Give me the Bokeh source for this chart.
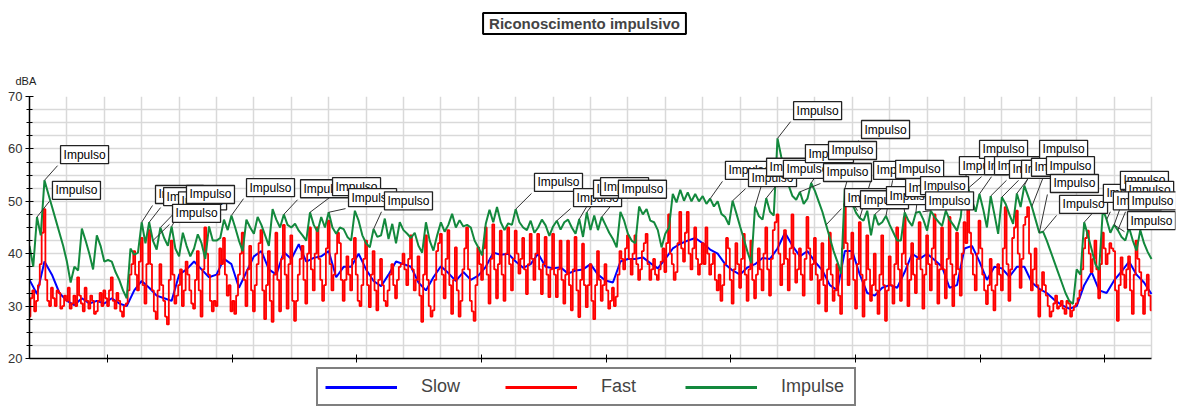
import numpy as np
from bokeh.plotting import figure
from bokeh.layouts import column
from bokeh.models import (Range1d, SingleIntervalTicker, FixedTicker, Label,
                          Legend, LegendItem, Title)
from bokeh.embed import file_html
from bokeh.resources import INLINE

# ---------------- data ----------------
FAST_STEP_S = 0.9     # seconds between Fast samples
IMP_STEP_S = 1.8      # seconds between Impulse samples
SLOW_STEP_S = 3.6     # seconds between Slow samples

fast_db = [
    28, 31.5, 33, 29, 31, 34, 38, 44, 48.5, 35, 31, 30, 33.5, 31.5, 30, 33, 32.5, 29.5, 30, 32,
    31, 33.5, 29.5, 30.5, 32, 30, 35.5, 32, 30.5, 29, 33.5, 31, 29.5, 32, 31, 28.5, 29, 31, 32.5, 30,
    33, 31.5, 30, 33, 35.5, 31, 29.5, 32.5, 31, 29, 28, 30, 30.5, 33, 36, 38, 40.5, 36, 33, 38.5,
    43, 34, 30.5, 38, 44.5, 38, 33, 29, 27.5, 33, 38, 34, 31, 28, 26.5, 35, 42.5, 36, 30.5, 32,
    34, 37, 30, 33, 38.5, 36, 33, 30.5, 29.5, 35, 40.5, 33, 28, 37, 45, 40, 36, 31, 29, 31,
    30, 36, 41, 38, 43, 36, 32, 34, 29, 31, 28.5, 32, 36, 40, 44, 35, 30, 37, 41.5, 33,
    29, 34, 38, 42, 44.5, 33, 27.5, 34, 40.5, 31, 27, 36, 44, 35, 29, 39, 45.5, 36, 29.5, 38,
    43.5, 31, 27.2, 31, 36, 39, 41.5, 35, 30.5, 40, 45, 37, 33, 40, 45, 39, 35, 31, 34, 41,
    46.3, 38, 33, 36, 40, 44, 42, 35, 31, 35, 39.5, 36, 33, 39, 43, 36, 31, 30, 34, 39,
    42.5, 34, 29.8, 36, 40.5, 33, 29.2, 35, 39, 34, 31, 30, 33, 36, 38, 34, 31.5, 35, 37.5, 38,
    40, 37, 34, 39, 43.5, 37, 33, 35, 39.5, 32, 27, 36, 43.5, 35, 30, 28, 29.2, 35, 40.5, 42,
    43.8, 36, 31.5, 39, 44.5, 34, 28.5, 35, 41.2, 33, 28, 31, 37, 41, 45, 37, 31, 29, 27.2, 34,
    41.2, 38, 35, 41, 45, 36, 30.5, 39, 45.6, 37, 31.5, 38, 44.4, 36, 31, 40, 45, 38, 33, 39,
    44.4, 40, 36.2, 39, 43, 37, 32.3, 38, 43.8, 39, 35, 40, 43.8, 37, 32.3, 38, 43.2, 36, 31.7, 37,
    43.8, 36, 31.7, 37, 42.5, 35, 30.5, 36, 42.5, 34, 29.2, 37, 43.2, 33, 27.9, 35, 41.9, 34, 29.8, 34,
    38, 31, 27.5, 34, 40.5, 35, 31, 34, 38, 33, 29.5, 31, 33.5, 30, 31.8, 36, 40.5, 39, 37, 41,
    43.5, 39, 36, 40, 43.5, 38, 35, 37, 40.5, 42, 43.8, 38, 35, 37, 39, 36, 35, 37, 38.5, 41,
    36.5, 42, 47.5, 40, 38, 35, 36.5, 42, 48, 41, 38.5, 44, 48, 40, 37, 41, 45, 39, 36, 38,
    42, 38, 45, 40, 36, 38, 40, 35, 33, 36, 31, 34, 38, 43, 41, 35, 30.5, 37, 42, 38,
    33.5, 39, 43.8, 36, 31, 37, 42.5, 35, 31.5, 36, 41, 37, 33, 40, 45, 37, 32, 39, 44.5, 46,
    47.5, 40, 34, 38, 44.5, 39, 33, 41, 47.5, 40, 34.5, 37, 41, 36, 32, 39, 47, 41, 35, 38,
    43, 36, 30.5, 35, 42, 34, 29, 37, 44, 36, 31, 33, 38, 32, 28.5, 41, 49.5, 42, 34, 39,
    44, 35, 29.5, 38, 46, 36, 28, 35, 43.5, 37, 31, 34, 40, 33, 28.5, 36, 43.5, 34, 27.2, 33,
    39.5, 34, 30.5, 38, 45, 37, 31, 40, 47, 38, 30, 35, 42, 36, 32.5, 39, 46, 37, 29.5, 36,
    43.5, 38, 33, 41, 47.5, 38, 30.5, 37, 45, 37, 31.5, 39, 47, 38, 30, 36, 44, 37, 32, 40,
    46, 42, 49, 44, 40, 36, 33, 40, 46.3, 41, 36, 33, 30.4, 34, 39, 33, 29.2, 34, 38, 36,
    33, 41, 48.9, 38, 31, 37, 43, 45, 48.2, 40, 33.5, 39, 45.5, 47, 48.9, 40, 33, 37, 41, 34,
    28, 33, 36.5, 34, 32, 30, 28, 29, 30.5, 32, 29.5, 30, 31, 29.5, 28.5, 31, 30.5, 28, 29.2, 30,
    30.5, 31.5, 33, 37, 41, 43, 44.4, 40, 36.5, 39, 42.5, 37, 31.5, 38, 44, 41, 38, 40, 42, 41,
    40.5, 33, 27.2, 34, 39.3, 36, 33.5, 37, 39.5, 33, 28.5, 36, 42.5, 39, 36.5, 32, 28.5, 33, 36, 32,
    29.2,
]

impulse_db = [
    41.5, 37.5, 47, 43.5, 54, 51.5, 49, 46.5, 44, 41.5,
    38.5, 34.5, 37.5, 36.8, 44.8, 42.5, 40, 37, 43.5, 41.5,
    38.5, 38.8, 38.5, 36.5, 35, 33, 31.5, 41, 39.8, 40.2,
    46, 42, 46, 42.5, 40.8, 45, 43, 41.5, 45.2, 41,
    39.5, 44, 41.5, 39.5, 41, 43.7, 42, 39, 45.2, 42.5,
    42.5, 43, 46.5, 44.5, 47.3, 45, 42.5, 40.5, 46.5, 45,
    43.8, 47, 45.5, 43.5, 41.5, 48.5, 46.5, 45, 47.5, 45.5,
    45, 45.7, 44.4, 43.5, 42.5, 47.9, 45.5, 44.2, 47, 45,
    47.9, 45, 43.8, 45, 44.7, 43.2, 42.5, 48.2, 46.3, 43.5,
    42, 41.2, 44.7, 43.2, 43.5, 46.7, 42.8, 45.7, 42, 46,
    44.5, 43.8, 43, 44, 41.5, 40.2, 46, 42.5, 40.6, 43.5,
    46, 44.2, 45.5, 47.6, 45, 46.4, 45.2, 45.5, 45, 42.5,
    41.2, 39.7, 45.7, 48.4, 46, 48.9, 46, 44.5, 45.8, 45.5,
    48.5, 46, 45, 44.5, 46.3, 44, 45, 46.5, 45.4, 43.4,
    45.2, 46.3, 44.6, 46, 46.5, 45, 43.8, 46.6, 43.2, 47.9,
    44.5, 47.3, 44.5, 47, 45.5, 44, 42.8, 41.2, 48, 46.3,
    43.8, 42.5, 42, 49, 47.5, 48.5, 46.3, 46, 44.5, 41.2,
    43.8, 45, 51.4, 49.8, 52.2, 50.1, 51.7, 50, 51.4, 50,
    51, 49.5, 50.5, 49, 50, 47.6, 47, 45.5, 50.1, 47.7,
    45.2, 42.8, 40.3, 38.2, 49, 47.2, 46.5, 50.6, 48, 47.3,
    62, 58.5, 55.8, 53, 51, 50.3, 51.8, 49.5, 50.5, 53.5,
    52, 50, 48, 45.5, 43, 40.5, 38.5, 36.2, 52.4, 51,
    49.5, 47.8, 46.8, 46.3, 48.2, 43.5, 47.5, 45.5, 46, 47.2,
    45.5, 44, 42.5, 42.5, 47.9, 46.3, 45.3, 47.8, 48, 46.5,
    44.4, 48.2, 47, 46.1, 45.3, 48.2, 46.5, 45.5, 44.4, 47,
    54.5, 52.5, 50.2, 48, 51.4, 48.5, 45, 51, 47.5, 43.8,
    50.8, 49.5, 47.5, 45.7, 51.5, 48.9, 53, 51, 49, 46.5,
    44, 44.2, 42.5, 40.5, 38.5, 36.5, 34.5, 32.5, 31, 30.4,
    37, 36, 46, 43.5, 40.8, 38, 36.9, 48.5, 46.5, 44,
    45.5, 44.5, 43.2, 42.5, 45, 42.5, 40.6, 44.5, 42, 40.3,
    39,
]

slow_db = [
    35, 32.3, 38.5, 36, 32.5, 31, 30.2, 31.5, 30.5, 31,
    30.5, 31.5, 30.5, 30, 33, 34.8, 33.5, 32, 31.5, 31,
    36, 37, 38.5, 37, 35.5,
    36, 39, 38, 33.5, 36.5, 39.5, 40.5, 37, 36, 40.3,
    39, 41.8, 38.5, 39.2, 39.5, 40.5, 35.5, 37.5, 37.5, 40,
    37, 34.8, 33.8, 36, 38.5,
    38, 37.5, 34.5, 33, 35.5, 37.6, 36.3, 34.8, 36.5, 35,
    35.8, 37.5, 40.2, 39.8, 40, 38.5, 37.3, 38, 40, 37.5,
    37.2, 37.4, 36.2, 36.8, 37,
    38, 36, 34.9, 34.5, 38.5, 39, 39, 39.3, 38.2, 37.2,
    39, 41, 41.9, 42.5, 43, 42, 40.8, 40, 38, 36.8,
    36, 37.4, 38, 39.2, 39,
    41, 44, 41.5, 39.5, 40.5, 38.5, 36.8, 34, 33, 40.5,
    40.5, 36, 32.5, 32, 33.5, 34, 33.5, 36.5, 40, 39,
    40, 38.8, 37.5, 33.5, 34,
    41, 41.5, 38.5, 35, 37.5, 37.2, 35.6, 37.5, 37.5, 34.5,
    33.3, 32.5, 31.2, 30.2, 29.5, 30, 34, 36.5, 33, 32.5,
    34.9, 36.6, 38.5, 36, 34.5, 32.3,
]

series_names = ["Slow", "Fast", "Impulse"]
chart_title = "Riconoscimento impulsivo"
y_unit = "dBA"
impulse_text = "Impulso"

# minute marks on the time axis (seconds)
x_tick_s = [37.5, 97.5, 157.5, 217.5, 277.5, 337.5, 397.5, 457.5, 517.5]

# impulse events: index of the Impulse sample that each callout marks
impulse_idx = [4, 2, 30, 32, 35, 38, 33, 54, 68, 75, 80, 92, 130, 141, 147,
               149, 153, 182, 188, 194, 197, 200, 203, 209, 206, 218, 222,
               213, 218, 226, 229, 234, 237, 241, 245, 250, 251, 254, 257,
               260, 264, 266, 268, 270, 271, 282, 287, 290, 288, 291, 290]

assert len(fast_db) == 601, len(fast_db)
assert len(impulse_db) == 301 and len(slow_db) == 151
assert len(impulse_idx) == 51

# ---------------- layout (callout box anchors, data coords) ----------------
callout_t = [13.5, 9.6, 59.2, 63.1, 70.3, 74.1, 67.4, 103.0, 129.0, 144.4,
             152.1, 169.4, 241.6, 260.4, 270.0, 273.4, 282.0, 333.5, 344.6,
             353.3, 361.4, 366.3, 372.0, 383.1, 380.7, 399.0, 404.8, 390.8,
             398.5, 411.0, 415.4, 420.2, 427.4, 429.8, 446.1, 455.8, 458.2,
             463.0, 470.2, 476.0, 480.8, 484.7, 488.0, 489.9, 494.3, 515.4,
             523.6, 526.1, 520.2, 527.5, 527.0]
callout_db = [56.8, 50.0, 49.2, 48.8, 48.0, 49.2, 45.6, 50.5, 50.3, 50.7,
              48.6, 48.0, 51.5, 48.6, 50.2, 50.7, 50.2, 53.8, 52.4, 54.4,
              54.0, 65.2, 57.0, 57.6, 53.4, 61.6, 53.8, 48.6, 48.2, 49.0,
              54.0, 50.5, 50.9, 48.0, 54.7, 57.8, 54.7, 54.7, 54.0, 54.0,
              54.4, 57.8, 54.7, 51.3, 47.3, 49.4, 51.9, 50.0, 48.0, 48.0,
              44.2]
assert len(callout_t) == 51 and len(callout_db) == 51

t_fast = np.arange(len(fast_db)) * FAST_STEP_S
t_imp = np.arange(len(impulse_db)) * IMP_STEP_S
t_slow = np.arange(len(slow_db)) * SLOW_STEP_S
t_end = float(t_imp[-1])

BLUE, RED, GREEN = "#0000FF", "#FF0000", "#13893D"
FONT = "Liberation Sans"
W = 1178
LEFT = 29                # page x of the y axis
PLOT_W = 1122            # width of the data area up to the last sample
EXTRA_R = 24             # callouts run past the last sample
RIGHT = W - LEFT - PLOT_W - EXTRA_R
px_per_s = PLOT_W / t_end

# header and legend strips share the main chart's frame edges (the column
# aligns them), so their x coordinates are page pixels from LEFT to W-RIGHT
strip_x = Range1d(LEFT, W - RIGHT)

# ---------------- header: title box ----------------
HDR_H = 60
hdr = figure(width=W, height=HDR_H, x_range=strip_x, y_range=Range1d(0, HDR_H),
             output_backend="svg", toolbar_location=None,
             x_axis_type=None, y_axis_type=None, min_border=0)
hdr.outline_line_color = None
hdr.add_layout(Label(x=584, y=HDR_H - 23, text=chart_title, text_align="center",
                     text_baseline="middle", text_font=FONT,
                     text_font_style="bold", text_font_size="15px",
                     padding=(6, 6, 2, 2), background_fill_color="white",
                     border_line_color="black", border_line_width=2))

# ---------------- main chart ----------------
p = figure(width=W, height=306,
           x_range=Range1d(0, t_end + EXTRA_R / px_per_s),
           y_range=Range1d(20, 70), output_backend="svg",
           toolbar_location=None,
           min_border_left=LEFT, min_border_right=RIGHT,
           min_border_top=96 - HDR_H, min_border_bottom=8)
p.outline_line_color = None
p.background_fill_color = "white"
p.border_fill_color = "white"
p.add_layout(Title(text=y_unit, align="left", offset=-14, standoff=20,
                   text_font=FONT, text_font_size="11px",
                   text_font_style="normal", text_color="#222222"), "above")

p.xgrid.ticker = SingleIntervalTicker(interval=18)
p.ygrid.ticker = SingleIntervalTicker(interval=2.5)
for g in (p.xgrid, p.ygrid):
    g.grid_line_color = "#D9D9D9"
    g.grid_line_width = 1.5
if "cross_bounds" in p.ygrid.properties():
    p.ygrid.cross_bounds = (0, t_end)

p.yaxis.ticker = SingleIntervalTicker(interval=10, num_minor_ticks=4)
p.yaxis.major_tick_in = 4
p.yaxis.major_tick_out = 4
p.yaxis.minor_tick_in = 3
p.yaxis.minor_tick_out = 3
p.yaxis.major_label_standoff = 3
p.yaxis.major_label_text_font = FONT
p.yaxis.major_label_text_font_size = "13px"
p.yaxis.major_label_text_color = "#333333"
p.xaxis.ticker = FixedTicker(ticks=x_tick_s, minor_ticks=[])
p.xaxis.bounds = (0, t_end)
p.xaxis.major_tick_in = 4
p.xaxis.major_tick_out = 4
p.xaxis.major_label_overrides = {tk: "" for tk in x_tick_s}
p.xaxis.major_label_standoff = 0
for ax in (p.xaxis, p.yaxis):
    ax.axis_line_color = "black"
    ax.axis_line_width = 1.5
    ax.major_tick_line_color = "black"
    ax.minor_tick_line_color = "black"

p.line(t_slow, slow_db, color=BLUE, line_width=2)
p.step(t_fast, fast_db, color=RED, line_width=1.8, mode="center")
p.line(t_imp, impulse_db, color=GREEN, line_width=2)

imp_arr = np.array(impulse_db)
p.segment(x0=t_imp[impulse_idx], y0=imp_arr[impulse_idx],
          x1=callout_t, y1=callout_db, color="#333333", line_width=1)

for lt, ld in zip(callout_t, callout_db):
    p.add_layout(Label(x=lt, y=ld, text=impulse_text, text_align="left",
                       text_baseline="bottom", x_offset=3, y_offset=2,
                       padding=(3, 3, 2, 2), text_font=FONT,
                       text_font_size="12px", text_color="black",
                       background_fill_color="white",
                       border_line_color="#222222", border_line_width=1.3))

# ---------------- legend strip ----------------
lf = figure(width=W, height=41, x_range=strip_x, y_range=Range1d(0, 1),
            output_backend="svg", toolbar_location=None,
            x_axis_type=None, y_axis_type=None, min_border=0)
lf.outline_line_color = None
# the series drawn again only to feed the legend (outside this strip's range)
l_slow = lf.line(t_slow, slow_db, color=BLUE, line_width=3)
l_fast = lf.line(t_fast, fast_db, color=RED, line_width=3)
l_imp = lf.line(t_imp, impulse_db, color=GREEN, line_width=3)
legend = Legend(items=[LegendItem(label=series_names[0], renderers=[l_slow]),
                       LegendItem(label=series_names[1], renderers=[l_fast]),
                       LegendItem(label=series_names[2], renderers=[l_imp])],
                location=(316 - LEFT, 1), orientation="horizontal",
                glyph_width=72, glyph_height=20, label_standoff=24,
                label_width=66, label_height=20, spacing=18, padding=7,
                margin=0, border_line_color="black", border_line_width=2,
                label_text_font=FONT, label_text_font_size="18px",
                background_fill_color="white", background_fill_alpha=1.0)
lf.add_layout(legend)

page = column(hdr, p, lf, spacing=0)
open("out.html", "w").write(file_html(page, INLINE))
